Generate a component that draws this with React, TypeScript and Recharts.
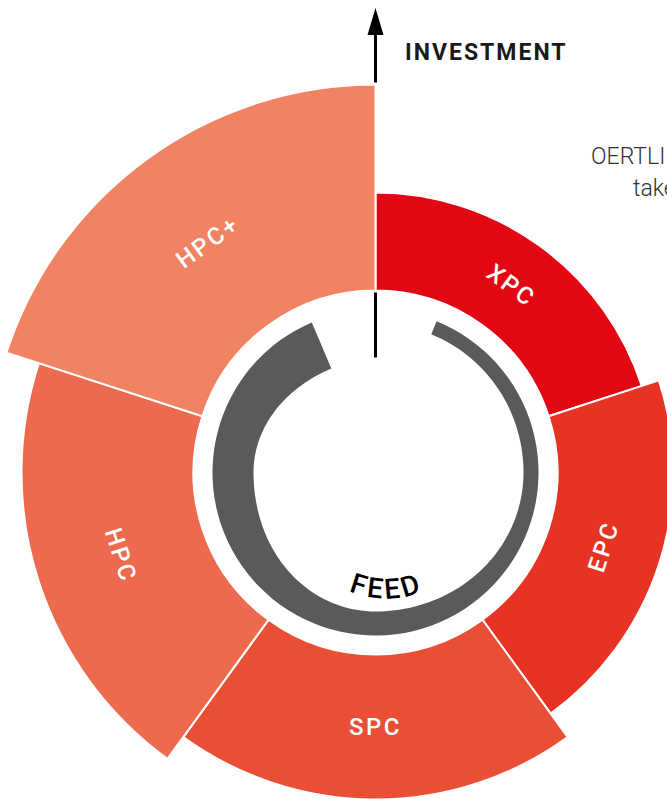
import React from 'react';
import { PieChart, Pie } from 'recharts';

// product lines, clockwise from the top
const categories = ['XPC', 'EPC', 'SPC', 'HPC', 'HPC+'];
// relative investment (radial length of each wedge beyond the feed ring)
const investment = [98, 116, 145, 172, 206];
// angular share of each wedge (degrees)
const span = [72, 72, 72, 72, 72];
const colors = ['#E30613', '#E63323', '#E94F35', '#ED6A4E', '#F18262'];

// feed ring: inner radius read at a few angles, it tapers towards the end
const feedAngles = [113, 180, 270, 360, 428];
const feedInner = [113, 122, 139, 148, 149];

const W = 667;
const H = 799;
const CX = 375.5;
const CY = 472.5;
const R_IN = 182;
const R_MAX = 388;
const FEED_OUTER = 163;
const RAD = Math.PI / 180;

const maxInvest = Math.max(...investment);
const radiusOf = (v: number) => R_IN + ((R_MAX - R_IN) * v) / maxInvest;

const pt = (cx: number, cy: number, r: number, a: number) => [
  cx + r * Math.cos(-a * RAD),
  cy + r * Math.sin(-a * RAD),
];

const innerAt = (a: number) => {
  for (let i = 0; i < feedAngles.length - 1; i++) {
    const a0 = feedAngles[i];
    const a1 = feedAngles[i + 1];
    if (a >= a0 && a <= a1) {
      const t = (a - a0) / (a1 - a0);
      const s = (1 - Math.cos(t * Math.PI)) / 2;
      return feedInner[i] + (feedInner[i + 1] - feedInner[i]) * s;
    }
  }
  return a < feedAngles[0] ? feedInner[0] : feedInner[feedInner.length - 1];
};

const FeedShape = (props: any) => {
  const { cx, cy, startAngle, endAngle, fill } = props;
  const [sx, sy] = pt(cx, cy, FEED_OUTER, startAngle);
  const [ex, ey] = pt(cx, cy, FEED_OUTER, endAngle);
  let d = `M${sx},${sy} A${FEED_OUTER},${FEED_OUTER} 0 1 0 ${ex},${ey}`;
  for (let a = endAngle; a >= startAngle; a -= 2) {
    const [x, y] = pt(cx, cy, innerAt(a), a);
    d += ` L${x},${y}`;
  }
  const [ix, iy] = pt(cx, cy, innerAt(startAngle), startAngle);
  d += ` L${ix},${iy} Z`;
  return <path d={d} fill={fill} />;
};

const renderLabel = (name: string) => (p: any) => {
  const r = (p.innerRadius + p.outerRadius) / 2;
  const [x, y] = pt(p.cx, p.cy, r, p.midAngle);
  let rot = 90 - p.midAngle;
  while (rot > 180) rot -= 360;
  while (rot <= -180) rot += 360;
  if (rot > 90) rot -= 180;
  if (rot < -90) rot += 180;
  return (
    <text
      x={x}
      y={y}
      fill="#fff"
      fontSize={24}
      fontWeight={500}
      letterSpacing={2.5}
      fontFamily="Roboto, sans-serif"
      textAnchor="middle"
      dominantBaseline="central"
      transform={`rotate(${rot} ${x} ${y})`}
    >
      {name}
    </text>
  );
};

const wedges = categories.map((name, i) => {
  const start = 90 - span.slice(0, i).reduce((s, v) => s + v, 0);
  return {
    name,
    value: span[i],
    investment: investment[i],
    color: colors[i],
    startAngle: start,
    endAngle: start - span[i],
  };
});

const feedArcPath = () => {
  const fx = CX + 11;
  const fy = CY + 30;
  const [lx, ly] = pt(fx, fy, 96, 225);
  const [rx, ry] = pt(fx, fy, 96, 315);
  return `M${lx},${ly} A96,96 0 0 0 ${rx},${ry}`;
};

export default function App() {
  return (
    <div style={{ position: 'absolute', left: 0, top: 0, width: W, height: H, background: '#fff' }}>
      <svg width={W} height={H} style={{ position: 'absolute', left: 0, top: 0 }}>
        <defs>
          <path id="feedArc" d={feedArcPath()} />
        </defs>
        {/* investment axis: visible above the wedges and inside the feed circle */}
        <line x1={CX} y1={CY - R_MAX - 2} x2={CX} y2={30} stroke="#000" strokeWidth={3} />
        <line x1={CX} y1={CY - R_IN + 2} x2={CX} y2={CY - 115} stroke="#000" strokeWidth={3} />
        <polygon points={`${CX},8 ${CX - 8},35 ${CX + 8},35`} fill="#000" />
        <text x={405} y={60} fontSize={23} fontWeight={700} letterSpacing={2} fill="#1a1a1a" fontFamily="Roboto, sans-serif">
          INVESTMENT
        </text>
        <text x={591} y={164} fontSize={23} fontWeight={300} fill="#333" fontFamily="Roboto, sans-serif">
          OERTLI
        </text>
        <text x={633} y={196} fontSize={23} fontWeight={300} fill="#333" fontFamily="Roboto, sans-serif">
          take
        </text>
        <text fontSize={28} fontWeight={500} letterSpacing={3} fill="#000" fontFamily="Roboto, sans-serif">
          <textPath href="#feedArc" startOffset="50%" textAnchor="middle">
            FEED
          </textPath>
        </text>
      </svg>
      <div style={{ position: 'absolute', left: 0, top: 0 }}>
        <PieChart width={W} height={H} margin={{ top: 0, right: 0, bottom: 0, left: 0 }}>
          <Pie
            data={[{ name: 'FEED', value: 1 }]}
            dataKey="value"
            cx={CX}
            cy={CY}
            startAngle={feedAngles[0]}
            endAngle={feedAngles[feedAngles.length - 1]}
            innerRadius={feedInner[0]}
            outerRadius={FEED_OUTER}
            fill="#5A5A58"
            stroke="none"
            shape={FeedShape}
            isAnimationActive={false}
          />
          {wedges.map((w) => (
            <Pie
              key={w.name}
              data={[w]}
              dataKey="value"
              cx={CX}
              cy={CY}
              startAngle={w.startAngle}
              endAngle={w.endAngle}
              innerRadius={R_IN}
              outerRadius={radiusOf(w.investment)}
              fill={w.color}
              stroke="#fff"
              strokeWidth={2}
              label={renderLabel(w.name)}
              labelLine={false}
              isAnimationActive={false}
            />
          ))}
        </PieChart>
      </div>
    </div>
  );
}
